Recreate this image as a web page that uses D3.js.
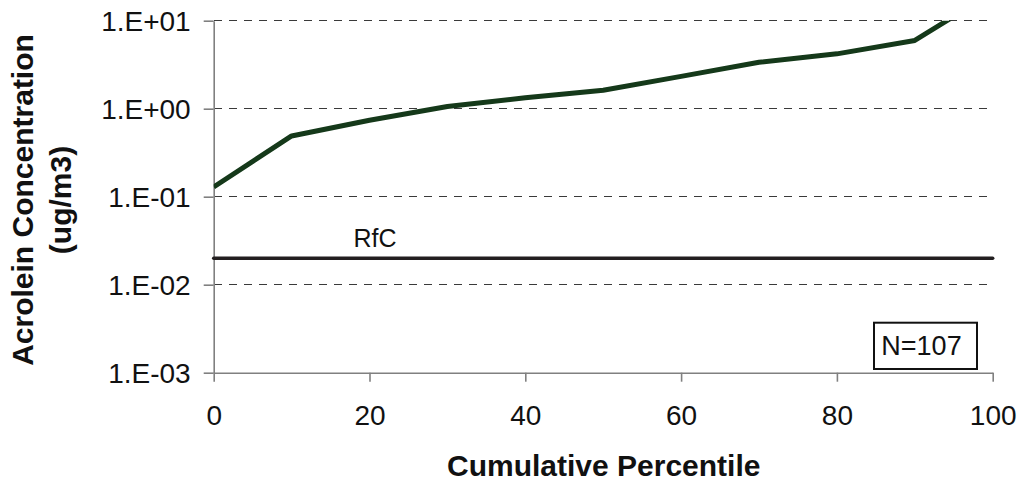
<!DOCTYPE html>
<html>
<head>
<meta charset="utf-8">
<script src="https://cdn.jsdelivr.net/npm/d3@7"></script>
<style>
  html, body { margin: 0; padding: 0; background: #fff; }
  svg { display: block; font-family: "Liberation Sans", Arial, sans-serif; }
</style>
</head>
<body>
<svg id="chart" width="1023" height="485"></svg>
<script>
// Cumulative distribution of measured acrolein concentrations
const percentiles = [0, 10, 20, 30, 40, 50, 60, 70, 80, 90, 100];
const concentration = [0.129, 0.49, 0.74, 1.06, 1.33, 1.62, 2.33, 3.37, 4.2, 5.96, 21];

// Reference concentration (RfC)
const rfcValue = [0.02];
const rfcLabel = ["RfC"];

// Axis ticks
const xTickValues = [0, 20, 40, 60, 80, 100];
const yTickValues = [0.001, 0.01, 0.1, 1, 10];
const yTickLabels = ["1.E-03", "1.E-02", "1.E-01", "1.E+00", "1.E+01"];

const sampleNote = ["N=107"];

const svg = d3.select("#chart");
const plot = { left: 213.7, right: 992.7, top: 20.7, bottom: 372.7 };

const x = d3.scaleLinear().domain([0, 100]).range([plot.left, plot.right]);
const y = d3.scaleLog().domain([0.001, 10]).range([plot.bottom, plot.top]);

svg.append("defs").append("clipPath").attr("id", "plot-clip")
  .append("rect")
  .attr("x", plot.left).attr("y", plot.top)
  .attr("width", plot.right - plot.left).attr("height", plot.bottom - plot.top);

// Dashed horizontal gridlines
svg.append("g")
  .selectAll("line")
  .data(yTickValues.filter(v => v > 0.001))
  .join("line")
  .attr("x1", plot.left).attr("x2", plot.right)
  .attr("y1", d => y(d)).attr("y2", d => y(d))
  .attr("stroke", "#3a3a3a")
  .attr("stroke-width", 1)
  .attr("stroke-dasharray", "8,7")
  .attr("shape-rendering", "crispEdges");

// Y axis
const yAxis = d3.axisLeft(y)
  .tickValues(yTickValues)
  .tickFormat((d, i) => yTickLabels[i])
  .tickSize(10)
  .tickSizeOuter(0)
  .tickPadding(13);
const gy = svg.append("g")
  .attr("transform", `translate(${plot.left},0)`)
  .call(yAxis);
gy.select(".domain").attr("stroke", "#808080").attr("stroke-width", 1.6);
gy.selectAll(".tick line").attr("stroke", "#808080").attr("stroke-width", 1.6);
gy.selectAll(".tick text")
  .attr("fill", "#111")
  .style("font-size", "28px")
  .attr("dy", "0.36em");

// X axis
const xAxis = d3.axisBottom(x)
  .tickValues(xTickValues)
  .tickFormat(d3.format("d"))
  .tickSize(9)
  .tickSizeOuter(0)
  .tickPadding(23);
const gx = svg.append("g")
  .attr("transform", `translate(0,${plot.bottom})`)
  .call(xAxis);
gx.select(".domain").attr("stroke", "#808080").attr("stroke-width", 1.6);
gx.selectAll(".tick line").attr("stroke", "#808080").attr("stroke-width", 1.6);
gx.selectAll(".tick text")
  .attr("fill", "#111")
  .style("font-size", "28px");

// RfC reference line
svg.append("g").selectAll("line")
  .data(rfcValue)
  .join("line")
  .attr("x1", x(0)).attr("x2", x(100))
  .attr("y1", d => y(d)).attr("y2", d => y(d))
  .attr("stroke", "#231f20")
  .attr("stroke-width", 3.5)
  .attr("stroke-linecap", "round");

svg.append("g").selectAll("text")
  .data(rfcValue)
  .join("text")
  .attr("x", x(20.7))
  .attr("y", d => y(d) - 11)
  .attr("text-anchor", "middle")
  .attr("fill", "#111")
  .style("font-size", "25px")
  .text(rfcLabel[0]);

// Concentration curve
const line = d3.line()
  .x((d, i) => x(percentiles[i]))
  .y(d => y(d));
svg.append("path")
  .datum(concentration)
  .attr("clip-path", "url(#plot-clip)")
  .attr("d", line)
  .attr("fill", "none")
  .attr("stroke", "#15391a")
  .attr("stroke-width", 5)
  .attr("stroke-linejoin", "round");

// Sample-size box
const note = svg.append("g");
note.append("rect")
  .attr("x", 874).attr("y", 322.7)
  .attr("width", 103).attr("height", 46.3)
  .attr("fill", "#fff")
  .attr("stroke", "#111")
  .attr("stroke-width", 2);
note.append("text")
  .attr("x", 921.5).attr("y", 355)
  .attr("text-anchor", "middle")
  .attr("fill", "#111")
  .style("font-size", "27px")
  .text(sampleNote[0]);

// Axis titles
svg.append("text")
  .attr("x", (plot.left + plot.right) / 2 + 0.5)
  .attr("y", 476)
  .attr("text-anchor", "middle")
  .attr("fill", "#111")
  .style("font-size", "30px")
  .style("font-weight", "bold")
  .text("Cumulative Percentile");

const yTitle = svg.append("text")
  .attr("transform", "translate(33,200) rotate(-90)")
  .attr("text-anchor", "middle")
  .attr("fill", "#111")
  .style("font-size", "30px")
  .style("font-weight", "bold");
yTitle.append("tspan").attr("x", 0).attr("y", 0).text("Acrolein Concentration");
yTitle.append("tspan").attr("x", 0).attr("y", 38).text("(ug/m3)");
</script>
</body>
</html>
